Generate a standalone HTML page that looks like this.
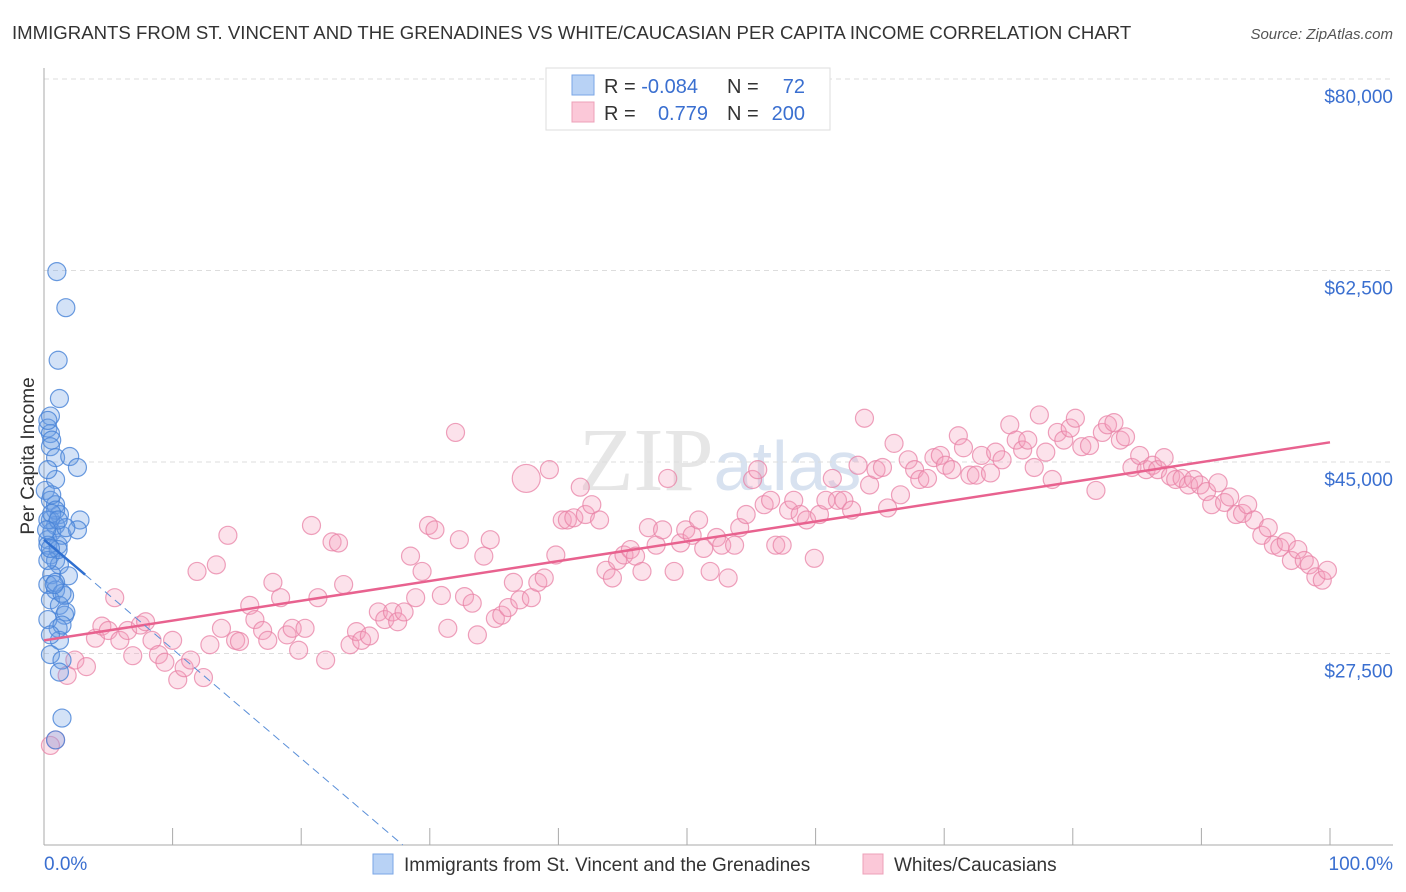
<!DOCTYPE html>
<html><head><meta charset="utf-8">
<style>
body{margin:0;background:#fff;font-family:"Liberation Sans",sans-serif;}
svg{display:block}
</style></head>
<body>
<svg id="chart" width="1406" height="892">
<text x="12" y="39" font-size="18.6" fill="#333">IMMIGRANTS FROM ST. VINCENT AND THE GRENADINES VS WHITE/CAUCASIAN PER CAPITA INCOME CORRELATION CHART</text>
<text x="1393" y="39" font-size="15" fill="#555" font-style="italic" text-anchor="end">Source: ZipAtlas.com</text>
<text x="720" y="490" font-size="90" fill="#e6e6e6" text-anchor="middle" font-family="Liberation Serif,serif">ZIP<tspan font-family="Liberation Sans,sans-serif" font-size="70" fill="#d8e2f0">atlas</tspan></text>
<g id="grid"></g>
<g id="axes"></g>
<g id="pts"></g>
<g id="lines"></g>
<text transform="translate(34,456) rotate(-90)" font-size="19" fill="#333" text-anchor="middle">Per Capita Income</text>
<g>
<rect x="546" y="68" width="284" height="62" fill="#fff" stroke="#ddd"/>
<rect x="572" y="75" width="22" height="20" fill="#b8d2f5" stroke="#7aa6e6"/>
<rect x="572" y="102" width="22" height="20" fill="#fbc8d8" stroke="#eda0b8"/>
<text x="604" y="93" font-size="20" fill="#333">R = <tspan fill="#3a6fd0">-0.084</tspan><tspan x="727">N =</tspan><tspan x="805" text-anchor="end" fill="#3a6fd0">72</tspan></text>
<text x="604" y="120" font-size="20" fill="#333">R = <tspan x="708" text-anchor="end" fill="#3a6fd0">0.779</tspan><tspan x="727">N =</tspan><tspan x="805" text-anchor="end" fill="#3a6fd0">200</tspan></text>
</g>
<g>
<rect x="373" y="854" width="20" height="20" fill="#b8d2f5" stroke="#7aa6e6"/>
<text x="404" y="871" font-size="19" fill="#333">Immigrants from St. Vincent and the Grenadines</text>
<rect x="863" y="854" width="20" height="20" fill="#fbc8d8" stroke="#eda0b8"/>
<text x="894" y="871" font-size="19" fill="#333">Whites/Caucasians</text>
</g>
</svg>
<script>
const yTicks=[27500,45000,62500,80000];
const yTickLabels=["$27,500","$45,000","$62,500","$80,000"];
const xTickVals=[0,10,20,30,40,50,60,70,80,90,100];
const pinkTrend=[28.7,0.181];
const blueTrend=[37.9,-1.0];
const pinkX=[0.5,0.9,1.8,2.4,3.3,4.0,4.5,5.0,5.5,5.9,6.5,6.9,7.5,7.9,8.4,8.9,9.4,10.0,10.4,10.9,11.4,11.9,12.4,12.9,13.4,13.8,14.3,14.9,15.2,16.0,16.4,17.0,17.4,17.8,18.4,18.9,19.3,19.8,20.3,20.8,21.3,21.9,22.4,22.9,23.3,23.8,24.3,24.7,25.3,26.0,26.5,27.1,27.5,28.0,28.5,28.9,29.4,29.9,30.4,30.9,31.4,32.0,32.3,32.7,33.3,33.7,34.2,34.7,35.1,35.6,36.1,36.5,37.0,37.5,37.9,38.4,38.9,39.3,39.8,40.3,40.7,41.2,41.7,42.1,42.6,43.2,43.7,44.2,44.6,45.1,45.6,46.0,46.5,47.0,47.6,48.1,48.5,49.0,49.5,49.9,50.4,50.9,51.3,51.8,52.3,52.7,53.2,53.7,54.1,54.6,55.1,55.5,56.0,56.5,56.9,57.4,57.9,58.3,58.8,59.3,59.9,60.3,60.8,61.3,61.7,62.2,62.8,63.3,63.8,64.2,64.7,65.2,65.6,66.1,66.6,67.2,67.7,68.1,68.7,69.2,69.7,70.1,70.6,71.1,71.5,72.0,72.5,72.9,73.6,74.0,74.5,75.1,75.6,76.1,76.5,77.0,77.4,77.9,78.4,78.8,79.3,79.8,80.2,80.7,81.3,81.8,82.3,82.7,83.2,83.7,84.1,84.6,85.2,85.7,86.2,86.6,87.1,87.6,88.0,88.5,89.0,89.4,89.9,90.4,90.8,91.3,91.8,92.2,92.7,93.2,93.6,94.1,94.7,95.2,95.6,96.1,96.6,97.0,97.5,98.0,98.4,98.9,99.4,99.8];
const pinkY=[19.1,19.6,25.5,26.9,26.3,28.9,30.0,29.6,32.6,28.7,29.6,27.3,30.1,30.4,28.7,27.4,26.7,28.7,25.1,26.2,26.9,35.0,25.3,28.3,35.6,29.8,38.3,28.7,28.6,31.9,30.6,29.6,28.7,34.0,32.6,29.2,29.8,27.8,29.8,39.2,32.6,26.9,37.7,37.6,33.8,28.3,29.5,28.7,29.1,31.3,30.6,31.3,30.4,31.3,36.4,32.6,35.0,39.2,38.8,32.8,29.8,47.7,37.9,32.7,32.1,29.2,36.4,37.9,30.7,31.0,31.7,34.0,32.4,43.5,32.6,34.0,34.4,44.3,36.5,39.7,39.7,39.9,42.7,40.2,41.1,39.7,35.1,34.4,36.0,36.5,37.0,36.4,35.0,39.0,37.4,38.8,43.5,35.0,37.6,38.8,38.3,39.7,37.1,35.0,38.1,37.4,34.4,37.4,39.0,40.2,43.4,44.3,41.1,41.5,37.4,37.4,40.6,41.5,40.2,39.7,36.2,40.2,41.5,43.5,41.5,41.5,40.6,44.7,49.0,42.9,44.3,44.5,40.8,46.7,42.0,45.2,44.3,43.4,43.5,45.4,45.6,44.7,44.3,47.4,46.3,43.8,43.8,45.6,44.0,45.9,45.2,48.4,47.0,46.1,47.0,44.5,49.3,45.9,43.4,47.7,47.0,48.1,49.0,46.4,46.5,42.4,47.7,48.4,48.6,47.0,47.3,44.5,45.6,44.3,44.7,44.3,45.4,43.7,43.4,43.5,42.9,43.4,42.9,42.3,41.1,43.1,41.3,41.8,40.2,40.3,41.1,39.7,38.3,39.0,37.4,37.2,37.7,36.0,37.0,36.0,35.6,34.5,34.2,35.1];
const blueX=[1.0,1.7,1.1,1.2,0.5,0.3,0.5,0.6,0.5,0.9,2.0,2.6,0.1,0.5,0.9,1.2,0.5,0.9,0.6,0.3,1.1,1.4,2.8,2.6,1.7,0.5,0.9,1.2,0.6,1.9,0.3,0.9,1.6,0.5,1.2,1.6,1.1,1.2,0.5,1.4,1.2,0.3,0.9,0.3,0.6,0.9,0.3,1.1,0.3,0.9,1.4,1.7,0.3,1.4,0.5,1.4,0.9,0.3,0.6,1.1,0.2,0.5,0.8];
const blueY=[62.4,59.1,54.3,50.8,49.2,48.1,47.6,47.0,46.4,45.4,45.5,44.5,42.4,41.5,41.1,40.2,39.7,39.2,38.6,37.9,37.4,38.3,39.7,38.8,39.0,36.5,36.0,35.6,34.7,34.6,33.8,33.3,32.8,32.4,31.9,31.0,29.8,28.7,27.4,26.9,25.8,48.8,43.4,44.3,42.0,40.6,37.4,37.0,36.0,34.0,33.0,31.3,30.6,30.1,29.2,21.6,19.6,39.7,40.3,39.7,38.8,37.1,33.8];
const X0=44,X1=1330,Y0=845,Y1=79,YMIN=10000,YMAX=80000;
const sx=v=>X0+(v/100)*(X1-X0);
const sy=v=>Y0-(v-YMIN)/(YMAX-YMIN)*(Y0-Y1);
const NS="http://www.w3.org/2000/svg";
function mk(t,a,p){const e=document.createElementNS(NS,t);for(const k in a)e.setAttribute(k,a[k]);p.appendChild(e);return e;}
const grid=document.getElementById('grid'),axes=document.getElementById('axes'),pts=document.getElementById('pts'),lines=document.getElementById('lines');
yTicks.forEach((v,i)=>{
 const l=mk('line',{x1:X0,x2:1393,y1:sy(v),y2:sy(v),stroke:'#ddd','stroke-dasharray':'5,4'},grid);
 
 
 const t=mk('text',{x:1393,y:sy(v)+24,'font-size':19,fill:'#3a6fd0','text-anchor':'end'},grid);
 t.textContent=yTickLabels[i];
 
 
});
const ax=mk('line',{x1:X0,x2:X0,y1:68,y2:Y0,stroke:'#aaa'},axes);


const bx=mk('line',{x1:X0,x2:1393,y1:Y0,y2:Y0,stroke:'#aaa'},axes);


xTickVals.forEach(v=>{const t=mk('line',{x1:sx(v),x2:sx(v),y1:828,y2:Y0,stroke:'#aaa'},axes);
 
 });
const xl0=mk('text',{x:44,y:870,'font-size':19,fill:'#3a6fd0'},axes);xl0.textContent='0.0%';


const xl1=mk('text',{x:1393,y:870,'font-size':19,fill:'#3a6fd0','text-anchor':'end'},axes);xl1.textContent='100.0%';


pinkX.forEach((x,i)=>{const big=(x===37.5&&pinkY[i]===43.5);
 const c=mk('circle',{cx:sx(x),cy:sy(pinkY[i]*1000),r:big?14:9,fill:'rgba(244,160,188,0.3)',stroke:'rgba(232,130,165,0.75)','stroke-width':1.2},pts);
 
 });
blueX.forEach((x,i)=>{const c=mk('circle',{cx:sx(x),cy:sy(blueY[i]*1000),r:9,fill:'rgba(110,160,230,0.3)',stroke:'rgba(70,130,215,0.8)','stroke-width':1.2},pts);
 
 });
const [pa,pb]=pinkTrend;
const pl=mk('line',{x1:sx(0),y1:sy(pa*1000),x2:sx(100),y2:sy((pa+pb*100)*1000),stroke:'#e8628f','stroke-width':2.5},lines);


const [ba,bb]=blueTrend;
const bxmax=3.2;
let xEnd=bb<0?Math.min(100,(10-ba)/bb):100;
const bl=mk('line',{x1:sx(0),y1:sy(ba*1000),x2:sx(bxmax),y2:sy((ba+bb*bxmax)*1000),stroke:'#2f6fd0','stroke-width':2.5},lines);


const bd=mk('line',{x1:sx(bxmax),y1:sy((ba+bb*bxmax)*1000),x2:sx(xEnd),y2:sy((ba+bb*xEnd)*1000),stroke:'#5a8fd8','stroke-width':1,'stroke-dasharray':'8,5'},lines);


</script>
</body></html>
